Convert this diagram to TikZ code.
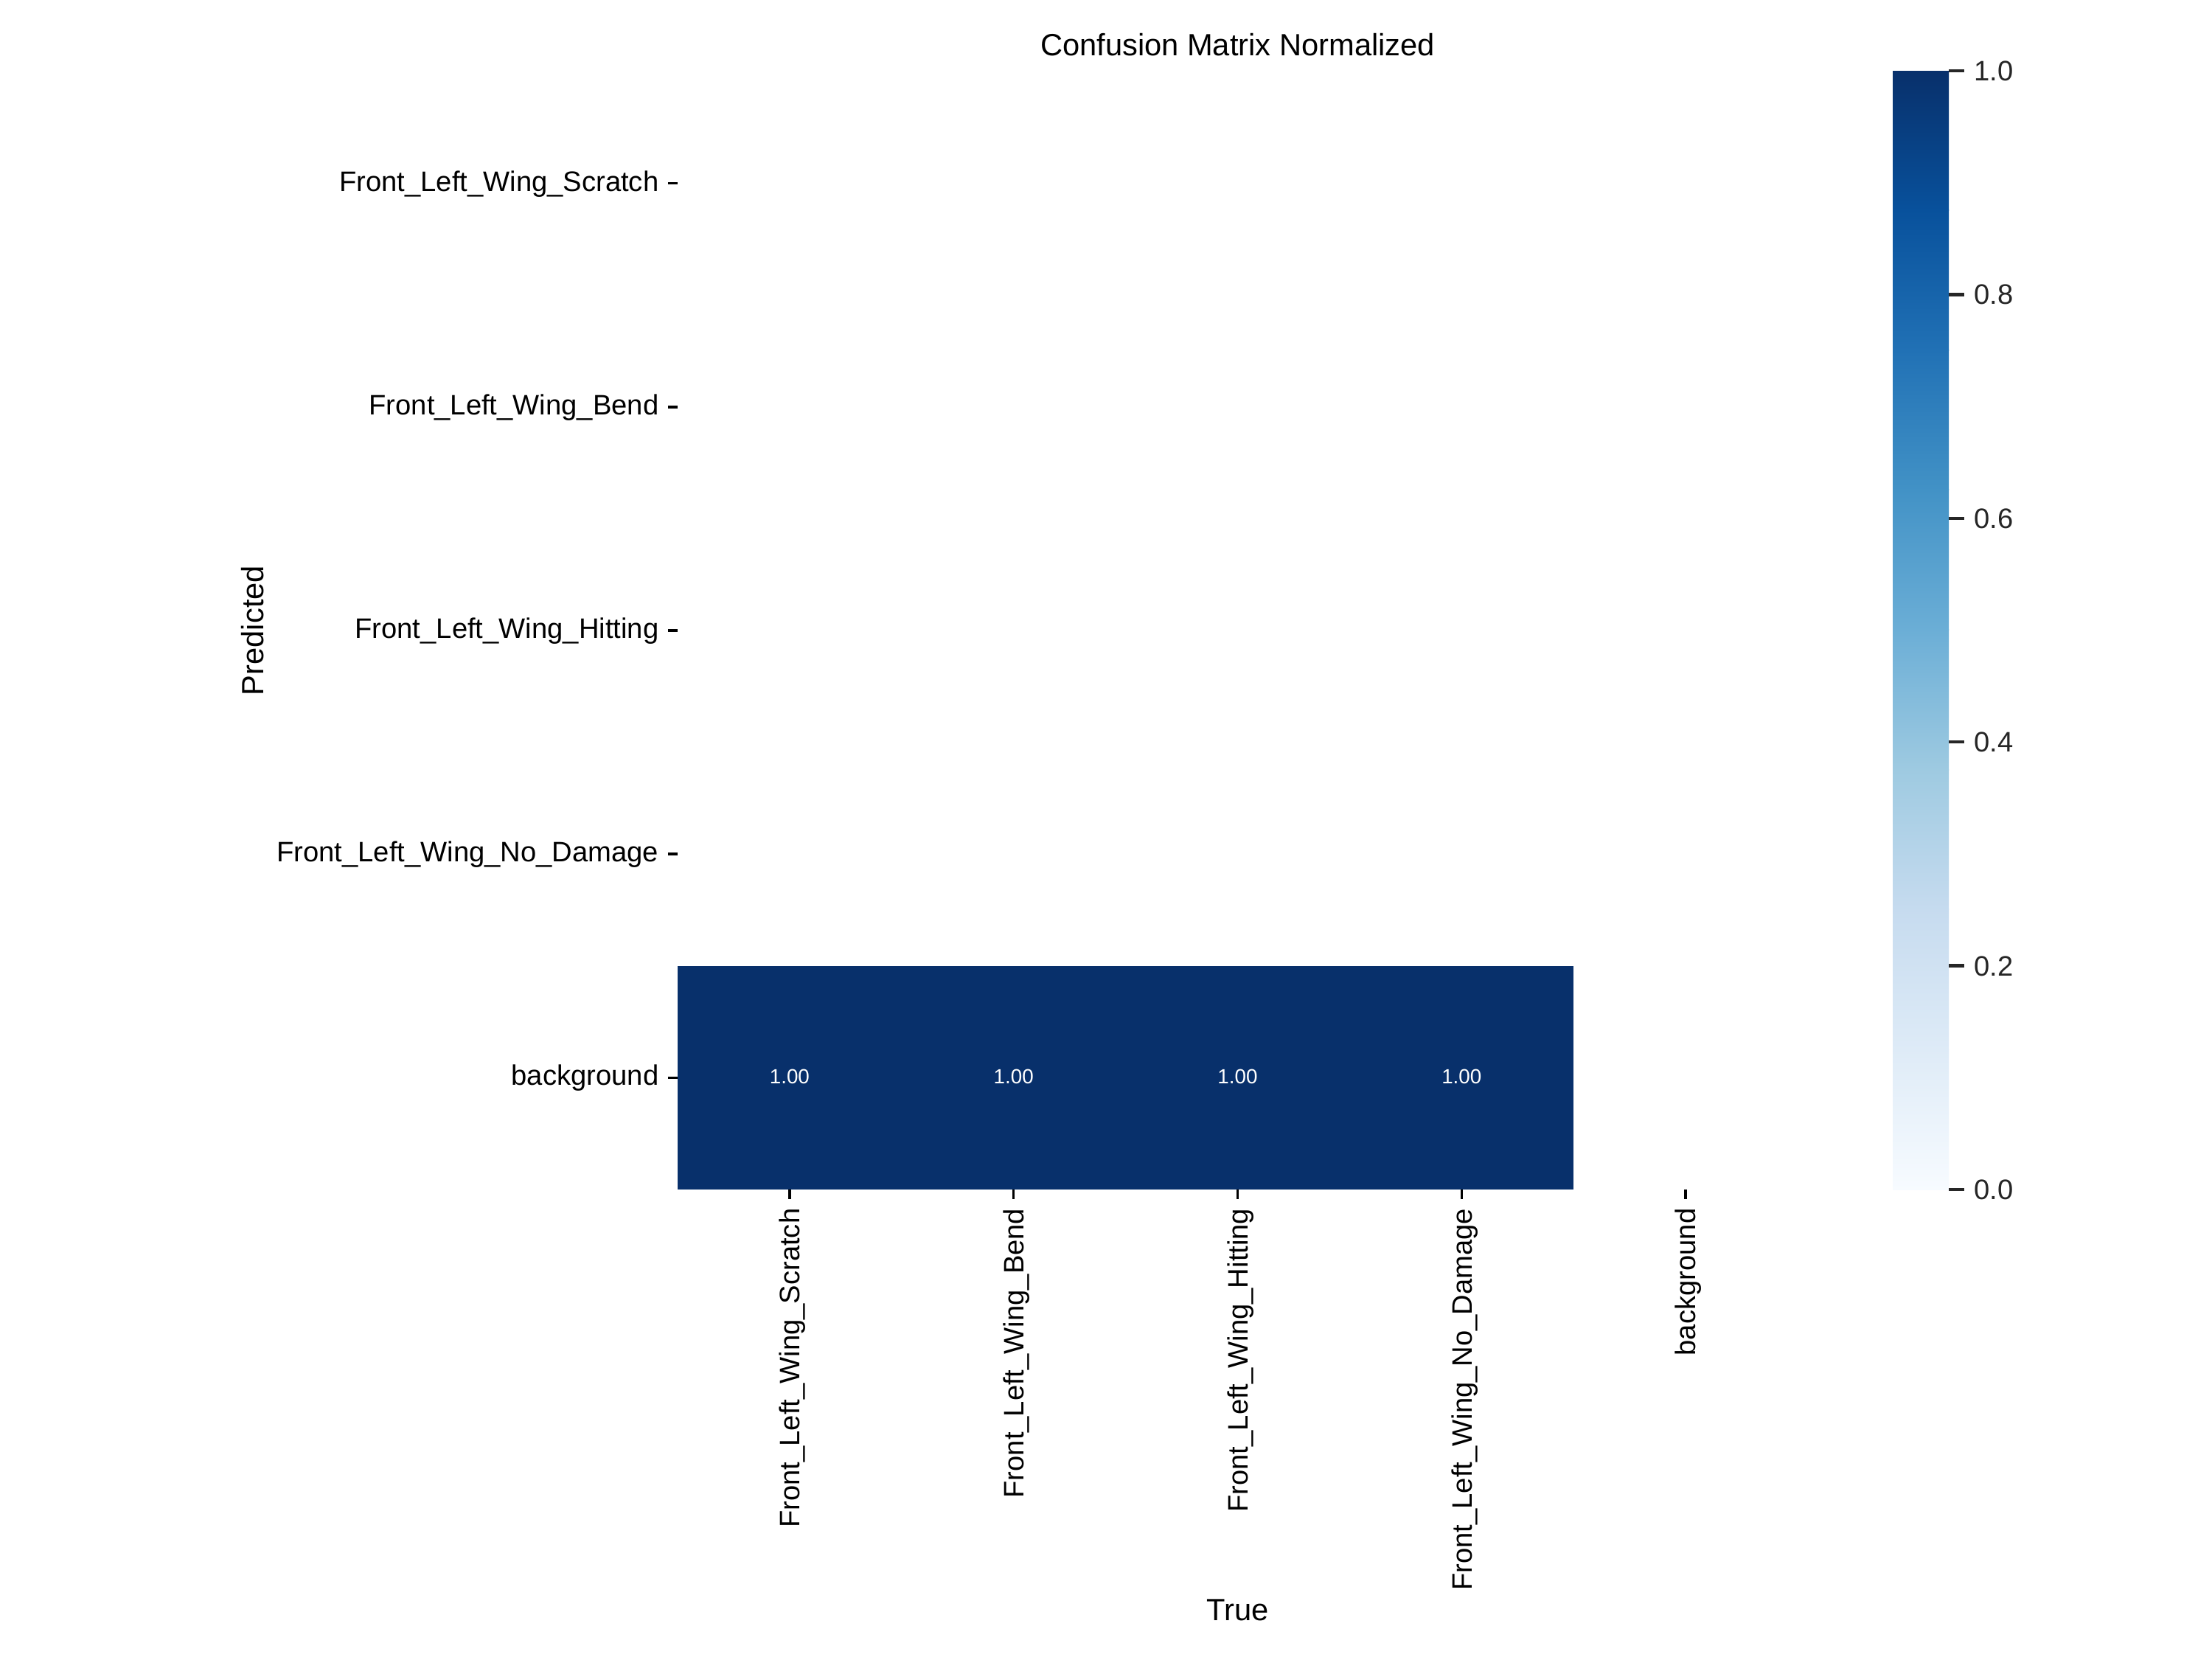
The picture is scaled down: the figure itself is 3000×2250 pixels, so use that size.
\documentclass[tikz,border=0pt]{standalone}
\usepackage{fontspec}
\setmainfont{Liberation Sans}
\definecolor{bA}{HTML}{F7FBFF}
\definecolor{bB}{HTML}{DEEBF7}
\definecolor{bC}{HTML}{C6DBEF}
\definecolor{bD}{HTML}{9ECAE1}
\definecolor{bE}{HTML}{6BAED6}
\definecolor{bF}{HTML}{4292C6}
\definecolor{bG}{HTML}{2171B5}
\definecolor{bH}{HTML}{08519C}
\definecolor{bI}{HTML}{08306B}
\definecolor{tk}{HTML}{262626}
\begin{document}
\begin{tikzpicture}[x=0.288pt,y=-0.288pt,
  ticklab/.style={inner sep=0pt, font=\fontsize{11}{13}\selectfont},
  ylab/.style={ticklab, anchor=base east},
  xlab/.style={ticklab, anchor=base east, rotate=90},
  annot/.style={inner sep=0pt, font=\fontsize{8}{10}\selectfont, text=white},
  axlab/.style={inner sep=0pt, anchor=base, font=\fontsize{12}{14}\selectfont},
  tickline/.style={line width=1.0pt, black},
  cbtick/.style={line width=1.25pt, tk},
  cblab/.style={ticklab, anchor=base west, text=tk}]
\useasboundingbox (0,0) rectangle (3000,2250);
\fill[white] (0,0) rectangle (3000,2250);
% heatmap: only the background row is non-zero
\fill[bI] (919,1309.8) rectangle (2134.2,1613);
\foreach \i in {0,1,2,3}{
  \node[annot] (a\i) at ({919+303.8*(\i+0.5)},1460.4) {1.00};
}
% y tick labels
\foreach \lab [count=\j from 0] in {Front\_Left\_Wing\_Scratch,Front\_Left\_Wing\_Bend,Front\_Left\_Wing\_Hitting,Front\_Left\_Wing\_No\_Damage,background}{
  \draw[tickline] (906,{97+303.2*(\j+0.5)}) -- (919,{97+303.2*(\j+0.5)});
  \node[ylab] (yl\j) at (894,{97+303.2*(\j+0.5)+10.5}) {\lab};
}
% x tick labels
\foreach \lab [count=\j from 0] in {Front\_Left\_Wing\_Scratch,Front\_Left\_Wing\_Bend,Front\_Left\_Wing\_Hitting,Front\_Left\_Wing\_No\_Damage,background}{
  \draw[tickline] ({919+303.8*(\j+0.5)},1613) -- ({919+303.8*(\j+0.5)},1626);
  \node[xlab] (xl\j) at ({919+303.8*(\j+0.5)+13.7},1638) {\lab};
}
% axis labels and title
\node[axlab] (title) at (1678.5,75) {Confusion Matrix Normalized};
\node[axlab] (xlabel) at (1678.5,2197) {True};
\node[axlab, rotate=90] (ylabel) at (357,855) {Predicted};
% colorbar
\def\cbx{2567}\def\cbr{2643}
\shade[bottom color=bA, top color=bB] (\cbx,{1613-0*189.625}) rectangle (\cbr,{1613-1*189.625-1});
\shade[bottom color=bB, top color=bC] (\cbx,{1613-1*189.625}) rectangle (\cbr,{1613-2*189.625-1});
\shade[bottom color=bC, top color=bD] (\cbx,{1613-2*189.625}) rectangle (\cbr,{1613-3*189.625-1});
\shade[bottom color=bD, top color=bE] (\cbx,{1613-3*189.625}) rectangle (\cbr,{1613-4*189.625-1});
\shade[bottom color=bE, top color=bF] (\cbx,{1613-4*189.625}) rectangle (\cbr,{1613-5*189.625-1});
\shade[bottom color=bF, top color=bG] (\cbx,{1613-5*189.625}) rectangle (\cbr,{1613-6*189.625-1});
\shade[bottom color=bG, top color=bH] (\cbx,{1613-6*189.625}) rectangle (\cbr,{1613-7*189.625-1});
\shade[bottom color=bH, top color=bI] (\cbx,{1613-7*189.625}) rectangle (\cbr,96);
\foreach \v [count=\k from 0] in {0.0,0.2,0.4,0.6,0.8,1.0}{
  \draw[cbtick] (2643,{1613-\v*1517}) -- (2664,{1613-\v*1517});
  \node[cblab] (cb\k) at (2677,{1613-\v*1517+13.5}) {\v};
}
\end{tikzpicture}
\end{document}
